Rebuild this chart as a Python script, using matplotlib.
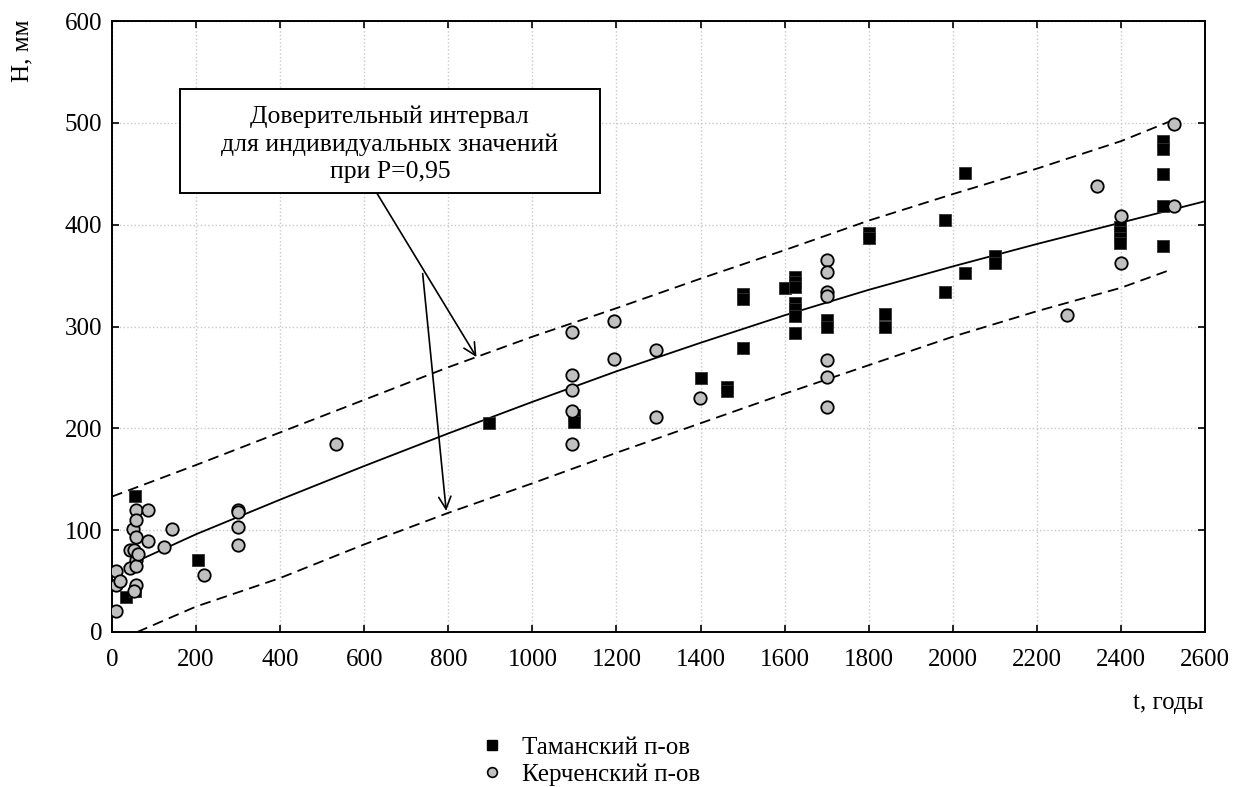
import numpy as np
import matplotlib
matplotlib.use('Agg')
import matplotlib.pyplot as plt
from matplotlib.patches import Rectangle
from matplotlib.lines import Line2D

plt.rcParams['font.family'] = ['Liberation Serif', 'DejaVu Serif']
plt.rcParams['font.size'] = 18

# ---------- данные ----------
# Таманский п-ов (квадраты)
taman_t = [33, 55, 55, 205, 897, 1100, 1100, 1400, 1462, 1462, 1500, 1500, 1500,
           1601, 1624, 1624, 1624, 1624, 1624, 1624, 1624, 1700, 1700, 1800, 1800,
           1838, 1838, 1981, 1981, 2029, 2029, 2100, 2100, 2398, 2398, 2398, 2398,
           2499, 2499, 2499, 2499, 2499]
taman_h = [34, 134, 40, 71, 205, 213, 206, 249, 241, 237, 279, 332, 327,
           338, 349, 344, 339, 323, 317, 310, 294, 306, 300, 392, 387,
           312, 300, 405, 334, 451, 353, 369, 362, 398, 393, 387, 382,
           482, 474, 450, 418, 379]

# Керченский п-ов (кружки)
kerch_t = [10, 10, 10, 19, 43, 43, 52, 51, 57, 57, 57, 57, 57, 57, 53, 63, 85, 86,
           124, 142, 219, 300, 300, 300, 300, 533, 1095, 1095, 1095, 1095, 1095,
           1195, 1195, 1295, 1295, 1399, 1700, 1700, 1700, 1700, 1700, 1700, 1700,
           2271, 2342, 2399, 2399, 2526, 2526]
kerch_h = [60, 46, 21, 50, 81, 63, 81, 101, 120, 110, 93, 71, 65, 46, 40, 77, 89, 120,
           83, 101, 56, 120, 118, 103, 85, 185, 295, 252, 238, 217, 185,
           305, 268, 277, 211, 230, 365, 354, 334, 330, 267, 250, 221,
           311, 438, 409, 362, 499, 418]

# линия регрессии
fit_t = [30, 200, 400, 600, 800, 1000, 1200, 1400, 1600, 1800, 2000, 2200, 2400, 2600]
fit_h = [64, 96, 130, 163, 195, 226, 256, 284, 311, 336, 359, 381, 402, 423]

# доверительный интервал (P=0,95)
upper_t = [0, 200, 400, 600, 800, 1000, 1200, 1400, 1600, 1800, 2000, 2200, 2400, 2520]
upper_h = [133, 164, 196, 228, 260, 290, 318, 347, 375, 404, 430, 455, 482, 502]
lower_t = [60, 200, 400, 600, 800, 1000, 1200, 1400, 1600, 1800, 2000, 2200, 2400, 2520]
lower_h = [0, 25, 53, 86, 117, 146, 176, 205, 234, 262, 290, 315, 338, 356]

x_ticks = list(range(0, 2601, 200))
y_ticks = list(range(0, 601, 100))

# ---------- рисунок ----------
fig = plt.figure(figsize=(12.37, 7.87), dpi=100)
ax = fig.add_axes([112 / 1237, 1 - 632 / 787, (1205 - 112) / 1237, (632 - 21) / 787])

ax.grid(True, color='#c8c8c8', linestyle=':', linewidth=1.0, zorder=0)

ax.plot(fit_t, fit_h, color='black', linewidth=1.3, zorder=2)
ax.plot(upper_t, upper_h, color='black', linewidth=1.3, linestyle=(0, (6, 3.5)), zorder=2)
ax.plot(lower_t, lower_h, color='black', linewidth=1.3, linestyle=(0, (6, 3.5)), zorder=2)

ax.scatter(taman_t, taman_h, marker='s', s=85, c='black', edgecolors='#333333',
           linewidths=0.6, zorder=3)
ax.scatter(kerch_t, kerch_h, marker='o', s=80, c='#c0c0c0', edgecolors='black',
           linewidths=1.3, zorder=4)

ax.set_xlim(0, 2600)
ax.set_ylim(0, 600)
ax.set_xticks(x_ticks)
ax.set_yticks(y_ticks)
ax.tick_params(direction='in', length=5, width=1.2, top=True, right=True,
               labelsize=18)
ax.tick_params(axis='x', pad=12)
ax.tick_params(axis='y', pad=7)
for sp in ax.spines.values():
    sp.set_linewidth(1.4)

# выноска
box = Rectangle((162, 431), 998, 102, facecolor='white', edgecolor='black',
                linewidth=1.4, zorder=6)
ax.add_patch(box)
ax.text(661, 479, 'Доверительный интервал\nдля индивидуальных значений\nпри P=0,95',
        ha='center', va='center', fontsize=18.5, linespacing=1.32, zorder=7)
arrow = dict(arrowstyle='->', color='black', linewidth=1.2,
             shrinkA=0, shrinkB=0, mutation_scale=22)
ax.annotate('', xy=(867, 270), xytext=(630, 431), arrowprops=arrow, zorder=5)
ax.annotate('', xy=(795, 119), xytext=(739, 352), arrowprops=arrow, zorder=5)

fig.text(22 / 1237, 1 - 51 / 787, 'H, мм', rotation=90, ha='center', va='center',
         fontsize=18)
fig.text(1168 / 1237, 1 - 703 / 787, 't, годы', ha='center', va='center', fontsize=18)

handles = [Line2D([], [], marker='s', linestyle='none', color='black', markersize=7),
           Line2D([], [], marker='o', linestyle='none', markerfacecolor='#c0c0c0',
                  markeredgecolor='black', markeredgewidth=1.2, markersize=7)]
fig.legend(handles, ['Таманский п-ов', 'Керченский п-ов'], loc='upper left',
           bbox_to_anchor=(482 / 1237, 1 - 736 / 787), frameon=False, fontsize=18,
           handlelength=0.8, handletextpad=0.8, labelspacing=0.2, borderpad=0,
           borderaxespad=0)

fig.savefig('out.png', dpi=100)
